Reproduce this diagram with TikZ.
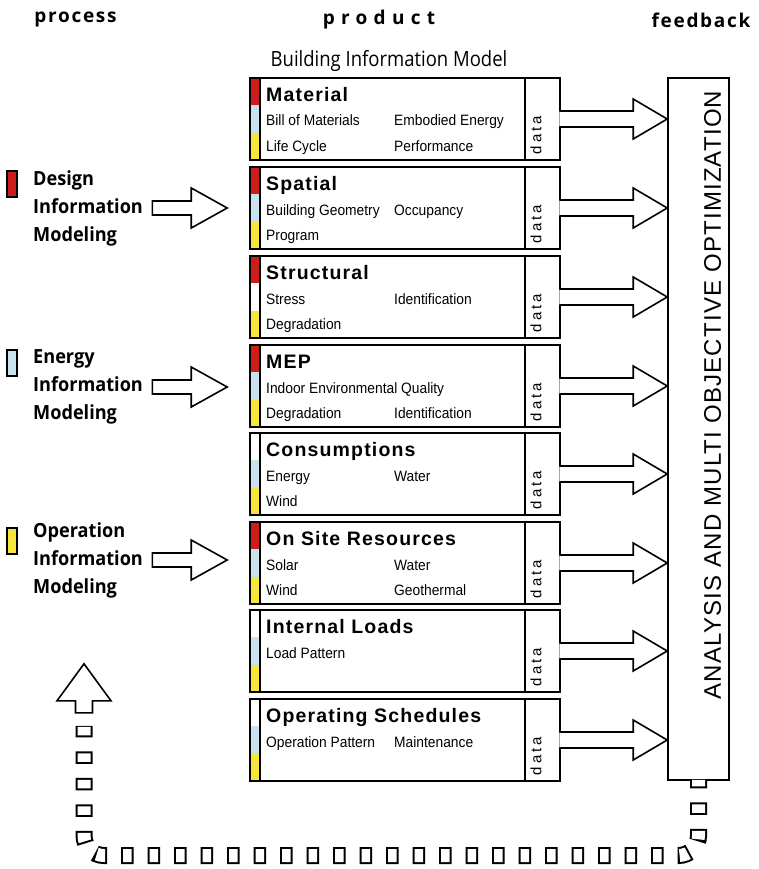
\documentclass[tikz,border=0pt]{standalone}
\usepackage{fontspec}
\setmainfont{Liberation Sans}
\newfontfamily\hdfont[LetterSpace=9]{Open Sans}
\newfontfamily\procfont[FakeStretch=0.93]{Open Sans}
\newfontfamily\bimfont[FakeStretch=0.88]{Open Sans}
\newfontfamily\ttlfont[LetterSpace=6]{Liberation Sans}
\newfontfamily\itmfont[FakeStretch=0.92]{Liberation Sans}
\newfontfamily\datfont[LetterSpace=20]{Liberation Sans}
\newfontfamily\fbfont[LetterSpace=5]{Liberation Sans}
\usetikzlibrary{calc}
\definecolor{barred}{RGB}{205,28,28}
\definecolor{barblue}{RGB}{200,226,240}
\definecolor{baryel}{RGB}{246,230,60}
\begin{document}
\begin{tikzpicture}[x=1pt,y=-1pt,
    hd/.style={font=\hdfont\bfseries\fontsize{19}{22}\selectfont, inner sep=0},
    bim/.style={font=\bimfont\fontsize{21}{24}\selectfont, inner sep=0},
    proc/.style={font=\procfont\bfseries\fontsize{19.5}{28}\selectfont, anchor=west, text width=112pt, align=left, inner sep=0},
    procsq/.style={draw, line width=1.4pt, minimum width=10pt, minimum height=26pt, inner sep=0},
    bimbox/.style={draw, line width=1.6pt, minimum width=310pt, minimum height=82pt, inner sep=0},
    boxline/.style={line width=1.6pt},
    ttl/.style={font=\ttlfont\bfseries\fontsize{19.5}{22}\selectfont, anchor=base west, inner sep=0},
    itm/.style={font=\itmfont\fontsize{15}{18}\selectfont, anchor=base west, inner sep=0},
    dat/.style={font=\datfont\fontsize{15}{18}\selectfont, rotate=90, inner sep=0},
    fb/.style={font=\fbfont\fontsize{24}{28}\selectfont, rotate=90, inner sep=0},
    dataarrow/.style={line width=1.6pt, fill=white, to path={let \p1=(\tikztostart), \p2=(\tikztotarget) in
        (\x1-1.5pt,\y1+8pt) -- (\x2-34pt,\y1+8pt) -- (\x2-34pt,\y1+20pt) -- (\x2,\y1)
        -- (\x2-34pt,\y1-20pt) -- (\x2-34pt,\y1-8pt) -- (\x1-1.5pt,\y1-8pt)}},
    procarrow/.style={line width=1.6pt, to path={let \p1=(\tikztostart), \p2=(\tikztotarget) in
        (\x1,\y1+7pt) -- (\x2-36pt,\y1+7pt) -- (\x2-36pt,\y1+20pt) -- (\x2,\y1)
        -- (\x2-36pt,\y1-20pt) -- (\x2-36pt,\y1-7pt) -- (\x1,\y1-7pt) -- cycle}},
    loopline/.style={white, line width=13pt, dash pattern=on 8.5pt off 18pt, dash phase=2pt, rounded corners=20pt,
        preaction={draw=black, line width=17pt, dash pattern=on 12.5pt off 14pt, dash phase=4pt}}]
\useasboundingbox (0,0) rectangle (758,869);

% column heads
\node[hd] (hdprocess) at (75.5,20) {process};
\node[hd] (hdproduct) at (379,20) {\addfontfeature{LetterSpace=33}product};
\node[hd] (hdfeedback) at (701,20) {feedback};
\node[bim] (bimlabel) at (389,61) {Building Information Model};

% material
\fill[barred] (250,78) rectangle +(10,27.33);
\fill[barblue] (250,105.33) rectangle +(10,27.33);
\fill[baryel] (250,132.67) rectangle +(10,27.33);
\node[bimbox] (material) at (405,119) {};
\draw[boxline] (260,78) -- +(0,82) (525,78) -- +(0,82);
\node[ttl] (material-t) at (266,101.5) {Material};
\node[itm] (material-a) at (266,126) {Bill of Materials};
\node[itm] (material-b) at (394,126) {Embodied Energy};
\node[itm] (material-c) at (266,151.5) {Life Cycle};
\node[itm] (material-d) at (394,151.5) {Performance};
\node[dat] (material-data) at (536,135) {data};

% spatial
\fill[barred] (250,167) rectangle +(10,27.33);
\fill[barblue] (250,194.33) rectangle +(10,27.33);
\fill[baryel] (250,221.67) rectangle +(10,27.33);
\node[bimbox] (spatial) at (405,208) {};
\draw[boxline] (260,167) -- +(0,82) (525,167) -- +(0,82);
\node[ttl] (spatial-t) at (266,190.5) {Spatial};
\node[itm] (spatial-a) at (266,215) {Building Geometry};
\node[itm] (spatial-b) at (394,215) {Occupancy};
\node[itm] (spatial-c) at (266,240.5) {Program};
\node[dat] (spatial-data) at (536,224) {data};

% structural
\fill[barred] (250,256) rectangle +(10,27.33);
\fill[baryel] (250,310.67) rectangle +(10,27.33);
\node[bimbox] (structural) at (405,297) {};
\draw[boxline] (260,256) -- +(0,82) (525,256) -- +(0,82);
\node[ttl] (structural-t) at (266,279.5) {Structural};
\node[itm] (structural-a) at (266,304) {Stress};
\node[itm] (structural-b) at (394,304) {Identification};
\node[itm] (structural-c) at (266,329.5) {Degradation};
\node[dat] (structural-data) at (536,313) {data};

% mep
\fill[barred] (250,345) rectangle +(10,27.33);
\fill[barblue] (250,372.33) rectangle +(10,27.33);
\fill[baryel] (250,399.67) rectangle +(10,27.33);
\node[bimbox] (mep) at (405,386) {};
\draw[boxline] (260,345) -- +(0,82) (525,345) -- +(0,82);
\node[ttl] (mep-t) at (266,368.5) {MEP};
\node[itm] (mep-a) at (266,393) {Indoor Environmental Quality};
\node[itm] (mep-c) at (266,418.5) {Degradation};
\node[itm] (mep-d) at (394,418.5) {Identification};
\node[dat] (mep-data) at (536,402) {data};

% consumptions
\fill[barblue] (250,460.33) rectangle +(10,27.33);
\fill[baryel] (250,487.67) rectangle +(10,27.33);
\node[bimbox] (consumption) at (405,474) {};
\draw[boxline] (260,433) -- +(0,82) (525,433) -- +(0,82);
\node[ttl] (consumption-t) at (266,456.5) {Consumptions};
\node[itm] (consumption-a) at (266,481) {Energy};
\node[itm] (consumption-b) at (394,481) {Water};
\node[itm] (consumption-c) at (266,506.5) {Wind};
\node[dat] (consumption-data) at (536,490) {data};

% on site resources
\fill[barred] (250,522) rectangle +(10,27.33);
\fill[barblue] (250,549.33) rectangle +(10,27.33);
\fill[baryel] (250,576.67) rectangle +(10,27.33);
\node[bimbox] (onsite) at (405,563) {};
\draw[boxline] (260,522) -- +(0,82) (525,522) -- +(0,82);
\node[ttl] (onsite-t) at (266,545.5) {On Site Resources};
\node[itm] (onsite-a) at (266,570) {Solar};
\node[itm] (onsite-b) at (394,570) {Water};
\node[itm] (onsite-c) at (266,595.5) {Wind};
\node[itm] (onsite-d) at (394,595.5) {Geothermal};
\node[dat] (onsite-data) at (536,579) {data};

% internal loads
\fill[barblue] (250,637.33) rectangle +(10,27.33);
\fill[baryel] (250,664.67) rectangle +(10,27.33);
\node[bimbox] (loads) at (405,651) {};
\draw[boxline] (260,610) -- +(0,82) (525,610) -- +(0,82);
\node[ttl] (loads-t) at (266,633.5) {Internal Loads};
\node[itm] (loads-a) at (266,658) {Load Pattern};
\node[dat] (loads-data) at (536,667) {data};

% operating schedules
\fill[barblue] (250,726.33) rectangle +(10,27.33);
\fill[baryel] (250,753.67) rectangle +(10,27.33);
\node[bimbox] (schedules) at (405,740) {};
\draw[boxline] (260,699) -- +(0,82) (525,699) -- +(0,82);
\node[ttl] (schedules-t) at (266,722.5) {Operating Schedules};
\node[itm] (schedules-a) at (266,747) {Operation Pattern};
\node[itm] (schedules-b) at (394,747) {Maintenance};
\node[dat] (schedules-data) at (536,756) {data};

% feedback
\node[draw, line width=1.6pt, minimum width=61pt, minimum height=702pt, inner sep=0] (analysis) at (698.5,429) {};
\node[fb] (analysis-t) at (712.5,395) {ANALYSIS AND MULTI OBJECTIVE OPTIMIZATION};
\draw[dataarrow] (material.east) to (material.east -| analysis.west);
\draw[dataarrow] (spatial.east) to (spatial.east -| analysis.west);
\draw[dataarrow] (structural.east) to (structural.east -| analysis.west);
\draw[dataarrow] (mep.east) to (mep.east -| analysis.west);
\draw[dataarrow] (consumption.east) to (consumption.east -| analysis.west);
\draw[dataarrow] (onsite.east) to (onsite.east -| analysis.west);
\draw[dataarrow] (loads.east) to (loads.east -| analysis.west);
\draw[dataarrow] (schedules.east) to (schedules.east -| analysis.west);

% process
\node[procsq, fill=barred] (design-sq) at (12,184) {};
\node[proc] (design) at (33,208) {Design\\Information\\Modeling};
\node[procsq, fill=barblue] (energy-sq) at (12,363) {};
\node[proc] (energy) at (33,387) {Energy\\Information\\Modeling};
\node[procsq, fill=baryel] (operation-sq) at (12,541) {};
\node[proc] (operation) at (33,560) {Operation\\Information\\Modeling};
\draw[procarrow] ([xshift=7pt]design.east) to ([xshift=-22pt]spatial.west);
\draw[procarrow] ([xshift=7pt]energy.east) to ([xshift=-22pt]mep.west);
\draw[procarrow] ([xshift=7pt]operation.east) to ([xshift=-22pt]onsite.west);

% loop back
\coordinate (loopend) at (84,725.8);
\draw[loopline] ([yshift=1pt]analysis.south) -- (698.5,855.5) -- (84,855.5) -- (loopend);
\draw[line width=1.6pt, fill=white] ($(loopend)+(-8.5,-13)$) -- ++(0,-12) -- ++(-18.5,0) -- ($(loopend)+(0,-62)$)
    -- ($(loopend)+(27,-25)$) -- ++(-18.5,0) -- ++(0,12) -- cycle;
\end{tikzpicture}
\end{document}
